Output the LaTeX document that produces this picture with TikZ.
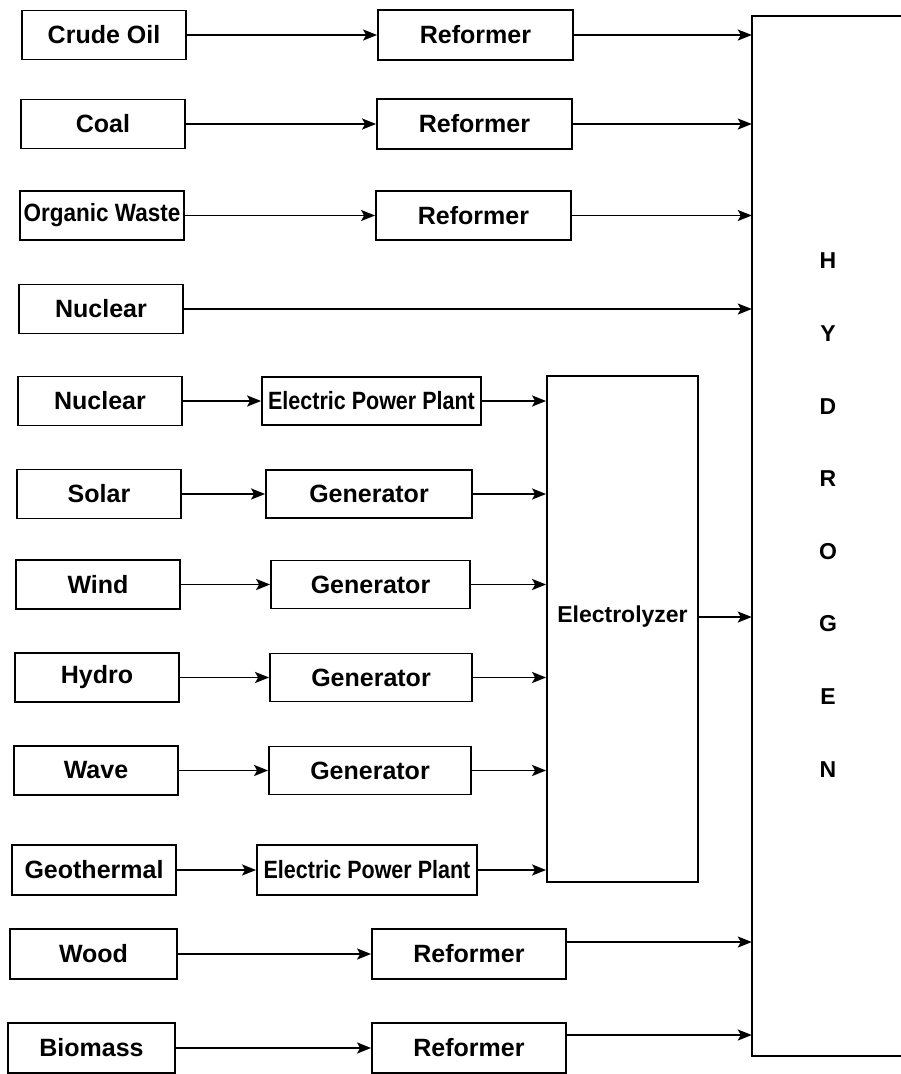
\documentclass[tikz,border=0pt]{standalone}
\usepackage{fontspec}
\setmainfont{Liberation Sans}
\usepackage{graphicx}
\usetikzlibrary{arrows.meta}
\begin{document}
\begin{tikzpicture}[x=1pt,y=-1pt,
  box/.style={draw, line width=1.8pt, inner sep=0pt, font=\bfseries\fontsize{25}{30}\selectfont},
  src/.style={box, minimum width=164pt, minimum height=49pt},
  arr/.style={line width=1.9pt, -{Stealth[length=14pt,width=11pt,inset=3pt]}},
  letters/.style={font=\bfseries\fontsize{23}{72.6}\selectfont, align=center, inner sep=0pt},
]
\useasboundingbox (0,0) rectangle (901,1074);

% source column
\node[src] (crude) at (104,35) {Crude Oil};
\node[src] (coal) at (103,124) {Coal};
\node[src] (organic) at (102,215.5) {\scalebox{0.9}[1]{Organic Waste}};
\node[src] (nuca) at (101,309) {Nuclear};
\node[src] (nucb) at (100,401) {Nuclear};
\node[src] (solar) at (99,494) {Solar};
\node[src] (wind) at (98,584.5) {Wind};
\node[src] (hydro) at (97,677.5) {Hydro};
\node[src] (wave) at (96,770.5) {Wave};
\node[src, minimum height=50pt] (geo) at (94,870) {Geothermal};
\node[src, minimum width=167pt, minimum height=50pt] (wood) at (93.5,954) {Wood};
\node[src, minimum width=167pt, minimum height=50pt] (biomass) at (91.5,1048) {Biomass};

% conversion column
\node[box, minimum width=195pt, minimum height=50pt] (refa) at (475.5,35) {Reformer};
\node[box, minimum width=195pt, minimum height=50pt] (refb) at (474.5,124) {Reformer};
\node[box, minimum width=195pt, minimum height=49pt] (refc) at (473.5,215.5) {Reformer};
\node[box, minimum width=219pt, minimum height=48pt] (eppa) at (371.5,401) {\scalebox{0.86}[1]{Electric Power Plant}};
\node[box, minimum width=206pt, minimum height=48pt] (gena) at (369,494) {Generator};
\node[box, minimum width=199pt, minimum height=48pt] (genb) at (370.5,584.5) {Generator};
\node[box, minimum width=202pt, minimum height=48pt] (genc) at (371,677.5) {Generator};
\node[box, minimum width=202pt, minimum height=48pt] (gend) at (370,770.5) {Generator};
\node[box, minimum width=220pt, minimum height=50pt] (eppb) at (367,870) {\scalebox{0.86}[1]{Electric Power Plant}};
\node[box, minimum width=194pt, minimum height=50pt] (refd) at (469,954) {Reformer};
\node[box, minimum width=194pt, minimum height=50pt] (refe) at (469,1048) {Reformer};

% electrolyzer
\node[draw, line width=1.8pt, minimum width=151pt, minimum height=506pt, inner sep=0pt] (elec) at (622.5,629) {};
\node[font=\bfseries\fontsize{23}{28}\selectfont, inner sep=0pt] (eltext) at (622.5,617) {Electrolyzer};

% hydrogen box (open on the right)
\node[minimum width=149pt, minimum height=1040pt, inner sep=0pt] (hbox) at (826.5,536) {};
\draw[line width=1.8pt] (hbox.north east) -- (hbox.north west) -- (hbox.south west) -- (hbox.south east);
\node[letters] (hword) at (828,515) {H\\Y\\D\\R\\O\\G\\E\\N};

% arrows: sources to converters
\draw[arr] (crude) -- (refa);
\draw[arr] (coal) -- (refb);
\draw[arr] (organic) -- (refc);
\draw[arr] (nucb) -- (eppa);
\draw[arr] (solar) -- (gena);
\draw[arr] (wind) -- (genb);
\draw[arr] (hydro) -- (genc);
\draw[arr] (wave) -- (gend);
\draw[arr] (geo) -- (eppb);
\draw[arr] (wood) -- (refd);
\draw[arr] (biomass) -- (refe);

% arrows into the electrolyzer
\draw[arr] (eppa.east) -- (eppa.east -| elec.west);
\draw[arr] (gena.east) -- (gena.east -| elec.west);
\draw[arr] (genb.east) -- (genb.east -| elec.west);
\draw[arr] (genc.east) -- (genc.east -| elec.west);
\draw[arr] (gend.east) -- (gend.east -| elec.west);
\draw[arr] (eppb.east) -- (eppb.east -| elec.west);

% arrows into hydrogen
\draw[arr] (refa.east) -- (refa.east -| hbox.west);
\draw[arr] (refb.east) -- (refb.east -| hbox.west);
\draw[arr] (refc.east) -- (refc.east -| hbox.west);
\draw[arr] (nuca.east) -- (nuca.east -| hbox.west);
\draw[arr] (eltext -| elec.east) -- (eltext -| hbox.west);
\coordinate (refdout) at ([yshift=12pt]refd.east);
\coordinate (refeout) at ([yshift=13pt]refe.east);
\draw[arr] (refdout) -- (refdout -| hbox.west);
\draw[arr] (refeout) -- (refeout -| hbox.west);
\end{tikzpicture}
\end{document}
